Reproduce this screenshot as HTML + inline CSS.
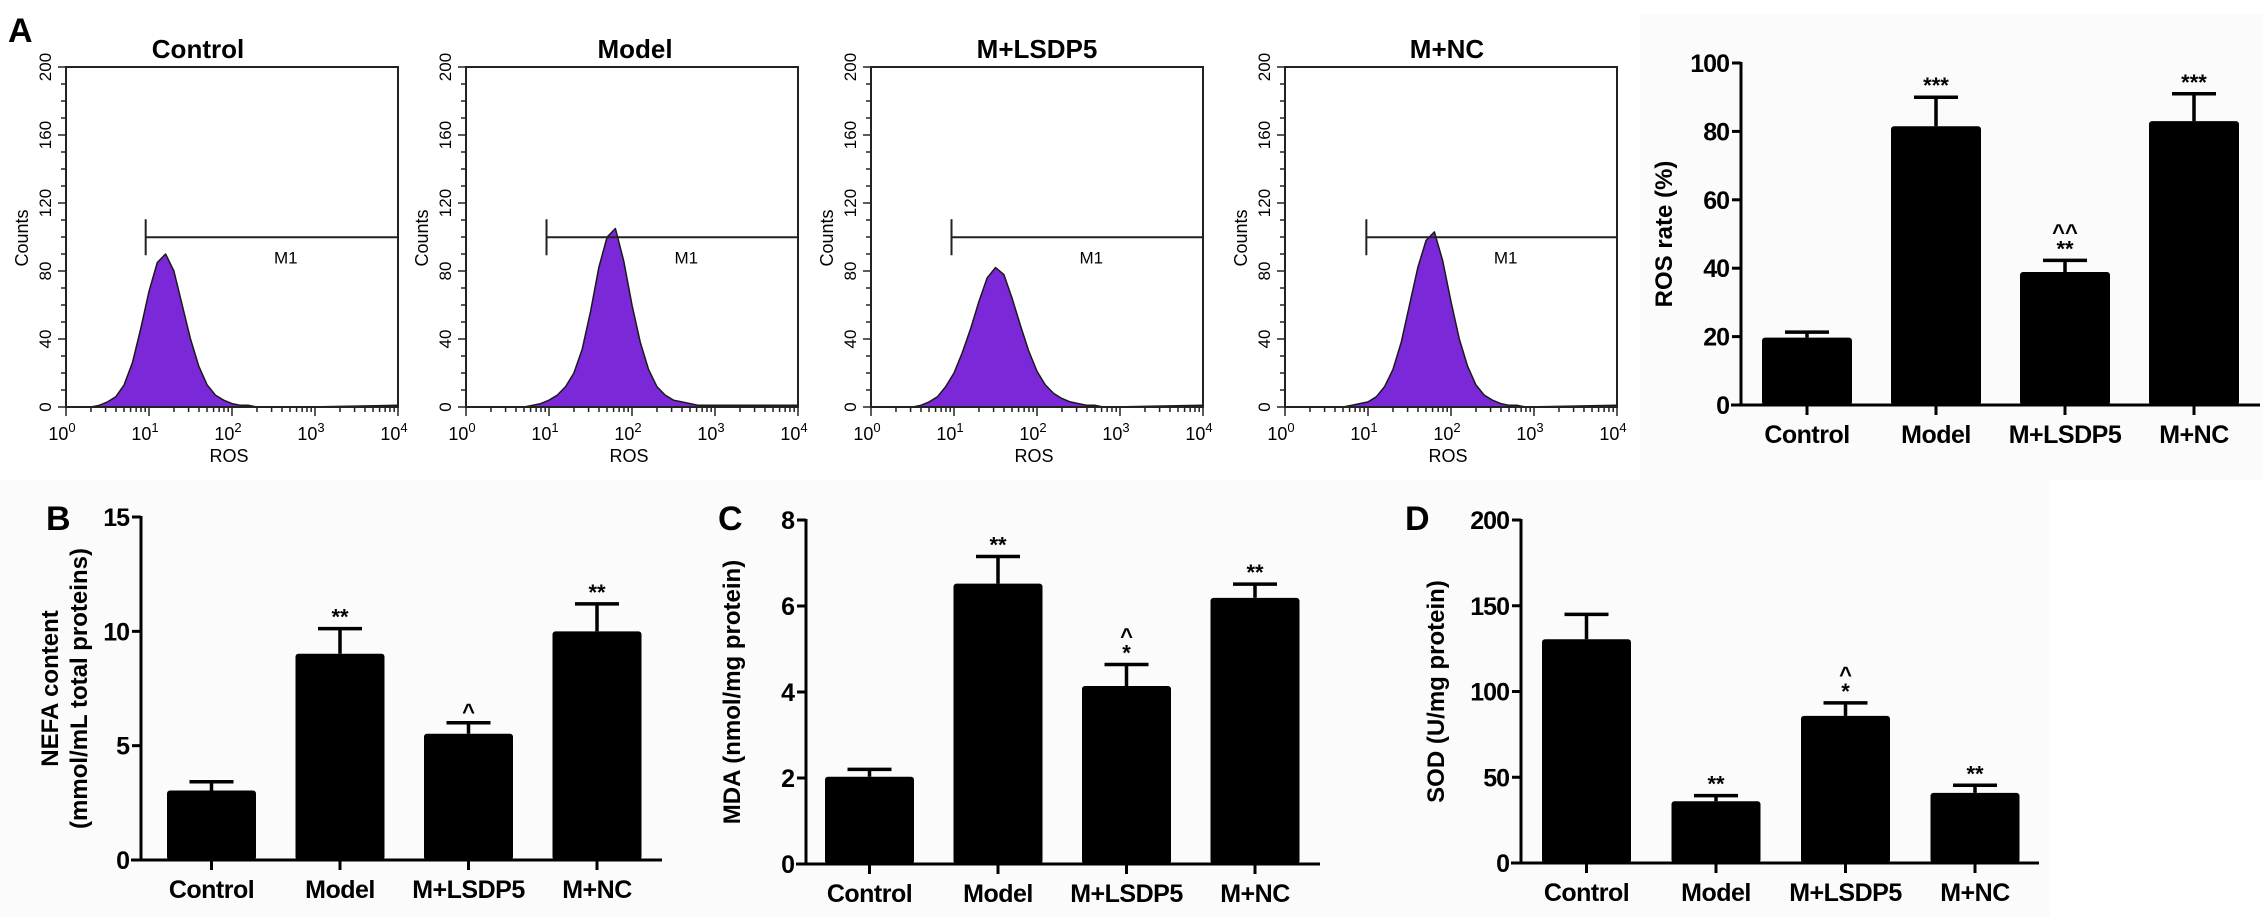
<!DOCTYPE html>
<html><head><meta charset="utf-8"><style>
html,body{margin:0;padding:0;background:#fff;}
svg{display:block;font-family:"Liberation Sans",sans-serif;}
</style></head><body>
<svg id="fig" width="2268" height="917" viewBox="0 0 2268 917" xmlns="http://www.w3.org/2000/svg">
<rect x="0" y="0" width="2268" height="917" fill="#ffffff"/>
<rect x="1640" y="14" width="622" height="466" fill="#fbfbfb"/>
<rect x="0" y="480" width="2050" height="437" fill="#fbfbfb"/>
<text x="8" y="42" font-size="34" font-weight="bold">A</text>
<text x="46" y="530" font-size="34" font-weight="bold">B</text>
<text x="718" y="530" font-size="34" font-weight="bold">C</text>
<text x="1405" y="530" font-size="34" font-weight="bold">D</text>
<g id="hist"></g>
<g id="bars"></g>
</svg>
<script>
// ---------- Histogram data (counts per 0.1-decade bin starting at 10^0.3) ----------
const histTitles = ["Control", "Model", "M+LSDP5", "M+NC"];
const controlCounts = [0,1,3,6,13,26,46,68,85,90,80,60,40,24,13,7,4,2,1,1,0,0,0,0,0,0,0];
const modelCounts   = [0,0,0,0,0,1,2,4,7,12,20,34,56,82,100,105,86,60,38,22,12,7,4,3,2,1,1];
const lsdp5Counts   = [0,0,0,1,3,6,12,20,32,46,62,76,82,78,64,48,33,21,13,8,5,3,2,1,1,0,0];
const ncCounts      = [0,0,0,0,0,1,2,3,6,12,22,38,60,82,98,103,86,62,40,24,13,7,4,2,1,1,0];
const gateStartDecade = [0.96, 0.97, 0.97, 0.98];
const gateLevel = [101, 101, 101, 101];
const histYTicks = [0, 40, 80, 120, 160, 200];
const histXTicks = [0, 1, 2, 3, 4];

// ---------- Bar chart data ----------
const categories = ["Control", "Model", "M+LSDP5", "M+NC"];
const rosValues = [19.7, 81.5, 38.9, 83];
const rosErrors = [1.6, 8.5, 3.4, 8];
const rosSig = [[], ["***"], ["^^", "**"], ["***"]];
const rosTicks = [0, 20, 40, 60, 80, 100];
const nefaValues = [3.04, 9.02, 5.52, 10.0];
const nefaErrors = [0.38, 1.1, 0.48, 1.2];
const nefaSig = [[], ["**"], ["^"], ["**"]];
const nefaTicks = [0, 5, 10, 15];
const mdaValues = [2.03, 6.52, 4.14, 6.19];
const mdaErrors = [0.17, 0.63, 0.5, 0.32];
const mdaSig = [[], ["**"], ["^", "*"], ["**"]];
const mdaTicks = [0, 2, 4, 6, 8];
const sodValues = [130.5, 36, 85.8, 40.9];
const sodErrors = [14.5, 3.3, 7.6, 4.4];
const sodSig = [[], ["**"], ["^", "*"], ["**"]];
const sodTicks = [0, 50, 100, 150, 200];

const NS = "http://www.w3.org/2000/svg";
function mk(tag, attrs, parent, txt) {
  const e = document.createElementNS(NS, tag);
  for (const k in attrs) e.setAttribute(k, attrs[k]);
  if (txt !== undefined) e.textContent = txt;
  parent.appendChild(e);
  return e;
}

// ---------- Histograms ----------
const hg = document.getElementById("hist");
const histLefts = [66, 466, 871, 1285];
const histTitleOff = [132, 169, 166, 162];
const allCounts = [controlCounts, modelCounts, lsdp5Counts, ncCounts];
const HW = 332, HT = 67, HB = 407, HMAX = 200;
const binStart = 0.3, binStep = 0.1;
histLefts.forEach((L, p) => {
  const g = mk("g", {}, hg);
  
  
  const xs = d => L + d / 4 * HW;
  const ys = c => HB - c / HMAX * (HB - HT);
  const t = mk("text", {x: L + histTitleOff[p], y: 58, "font-size": 26, "font-weight": "bold", "text-anchor": "middle"}, g, histTitles[p]);
  
  
  const counts = allCounts[p];
  let pts = [[xs(binStart), ys(0)]];
  counts.forEach((c, i) => pts.push([xs(binStart + i * binStep), ys(c)]));
  pts.push([xs(4), ys(1)]);
  pts.push([xs(4), ys(0)]);
  const poly = mk("polygon", {points: pts.map(q => q.join(",")).join(" "), fill: "#7b28d9", stroke: "#1a1a1a", "stroke-width": 1.5, "stroke-linejoin": "round"}, g);
  
  
  const box = mk("path", {d: `M${L},${HB} L${L},${HT} L${L + HW},${HT} L${L + HW},${HB} Z`, fill: "none", stroke: "#222", "stroke-width": 2}, g);
  
  
  for (let c = 0; c <= 200; c += 10) {
    const major = c % 40 === 0;
    mk("line", {x1: L - (major ? 8 : 5), x2: L, y1: ys(c), y2: ys(c), stroke: "#222", "stroke-width": 1.5}, g);
  }
  histYTicks.forEach(c => {
    const tl = mk("text", {x: 0, y: 0, "font-size": 17, "text-anchor": "middle", transform: `translate(${L - 15},${ys(c)}) rotate(-90)`}, g, String(c));
    
    
  });
  const yt = mk("text", {x: 0, y: 0, "font-size": 18, "text-anchor": "middle", transform: `translate(${L - 38},238) rotate(-90)`}, g, "Counts");
  
  
  for (let d = 0; d < 4; d++) {
    for (let m = 1; m <= 9; m++) {
      const x = xs(d + Math.log10(m));
      mk("line", {x1: x, x2: x, y1: HB, y2: HB + (m === 1 ? 9 : 5), stroke: "#222", "stroke-width": 1.5}, g);
    }
  }
  mk("line", {x1: xs(4), x2: xs(4), y1: HB, y2: HB + 9, stroke: "#222", "stroke-width": 1.5}, g);
  histXTicks.forEach(d => {
    const tl = mk("text", {x: xs(d) - 4, y: 440, "font-size": 18, "text-anchor": "middle"}, g);
    
    
    mk("tspan", {}, tl, "10");
    mk("tspan", {dy: -8, "font-size": 13}, tl, String(d));
  });
  const xt = mk("text", {x: L + HW / 2 - 3, y: 462, "font-size": 18, "text-anchor": "middle"}, g, "ROS");
  
  
  const gx = xs(gateStartDecade[p]), gy = ys(gateLevel[p]) + 2;
  const gate = mk("path", {d: `M${gx},${gy - 18} L${gx},${gy + 18} M${gx},${gy} L${L + HW},${gy}`, stroke: "#222", "stroke-width": 2, fill: "none"}, g);
  
  
  const gl = mk("text", {x: (gx + L + HW) / 2 + 14, y: gy + 26, "font-size": 17, "text-anchor": "middle"}, g, "M1");
  
  
});

// ---------- Bar charts ----------
const bg = document.getElementById("bars");
function barChart(cfg) {
  const g = mk("g", {}, bg);
  
  
  const {ax, top, base, max, axEnd, firstOff, pitch, bw} = cfg;
  const ys = v => base - v / max * (base - top);
  mk("line", {x1: ax, x2: ax, y1: top - 1, y2: base + 1.5, stroke: "#000", "stroke-width": 3}, g);
  mk("line", {x1: ax - 10, x2: axEnd, y1: base, y2: base, stroke: "#000", "stroke-width": 3}, g);
  cfg.ticks.forEach(v => {
    mk("line", {x1: ax - 9, x2: ax, y1: ys(v), y2: ys(v), stroke: "#000", "stroke-width": 3}, g);
    const tl = mk("text", {x: ax - 12, y: ys(v) + 9, "font-size": 25, "font-weight": "bold", "text-anchor": "end", "letter-spacing": "-1"}, g, String(v));
    
    
  });
  cfg.title.forEach((line, i) => {
    const tt = mk("text", {x: 0, y: 0, "font-size": 24, "font-weight": "bold", "text-anchor": "middle", transform: `translate(${cfg.titleX + i * 29},${(top + base) / 2}) rotate(-90)`}, g, line);
    
    
  });
  categories.forEach((c, i) => {
    const x0 = ax + firstOff + i * pitch, cx = x0 + bw / 2;
    const v = cfg.values[i], e = cfg.errors[i];
    const bar = mk("rect", {x: x0, y: ys(v), width: bw, height: base - ys(v), fill: "#000", rx: 3}, g);
    
    
    const eb = mk("path", {d: `M${cx},${ys(v)} L${cx},${ys(v + e)} M${cx - 22},${ys(v + e)} L${cx + 22},${ys(v + e)}`, stroke: "#000", "stroke-width": 3.5, fill: "none"}, g);
    
    
    mk("line", {x1: cx, x2: cx, y1: base, y2: base + 10, stroke: "#000", "stroke-width": 3}, g);
    const cl = mk("text", {x: cx, y: base + 38, "font-size": 25, "font-weight": "bold", "text-anchor": "middle", "letter-spacing": "-0.5"}, g, c);
    
    
    const sig = cfg.sig[i];
    sig.slice().reverse().forEach((s, k) => {
      const st = mk("text", {x: cx, y: ys(v + e) - 4 - k * 17, "font-size": 22, "font-weight": "bold", "text-anchor": "middle"}, g, s);
      
      
    });
  });
}
barChart({name: "ros-rate-chart", ax: 1741, top: 63, base: 405, max: 100, axEnd: 2260, firstOff: 21, pitch: 129, bw: 90,
  values: rosValues, errors: rosErrors, sig: rosSig, ticks: rosTicks, title: ["ROS rate (%)"], titleX: 1672});
barChart({name: "nefa-chart", ax: 141, top: 517, base: 860, max: 15, axEnd: 662, firstOff: 26, pitch: 128.5, bw: 89,
  values: nefaValues, errors: nefaErrors, sig: nefaSig, ticks: nefaTicks, title: ["NEFA content", "(mmol/mL total proteins)"], titleX: 58});
barChart({name: "mda-chart", ax: 806, top: 520, base: 864, max: 8, axEnd: 1320, firstOff: 19, pitch: 128.5, bw: 89,
  values: mdaValues, errors: mdaErrors, sig: mdaSig, ticks: mdaTicks, title: ["MDA (nmol/mg protein)"], titleX: 740});
barChart({name: "sod-chart", ax: 1521, top: 520, base: 863, max: 200, axEnd: 2039, firstOff: 21, pitch: 129.5, bw: 89,
  values: sodValues, errors: sodErrors, sig: sodSig, ticks: sodTicks, title: ["SOD (U/mg protein)"], titleX: 1444});
</script>
</body></html>
